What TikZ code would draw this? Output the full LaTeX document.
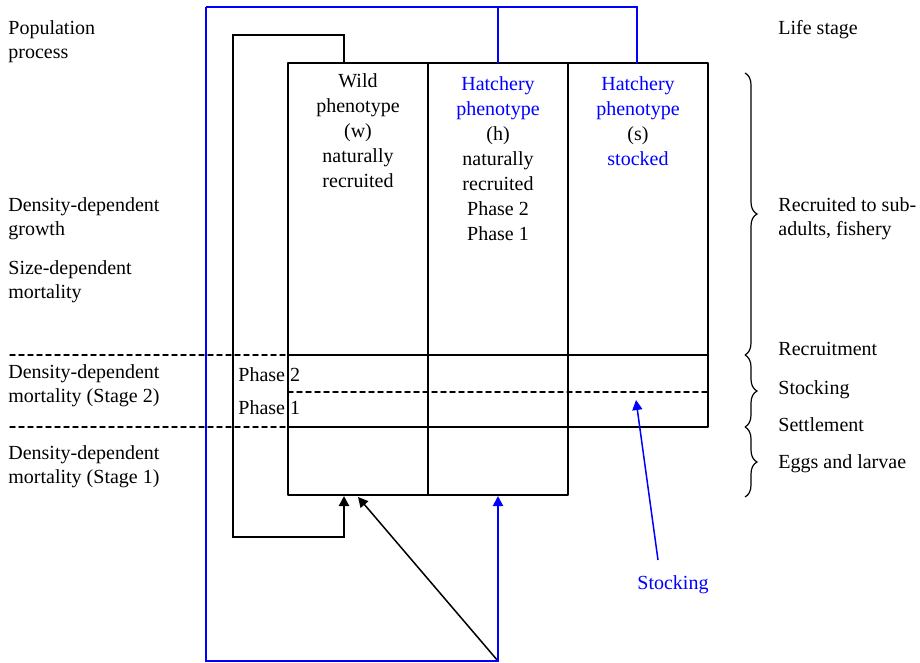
\documentclass[tikz,border=0pt]{standalone}
\usepackage{fontspec}
\setmainfont{Liberation Serif}
\usepackage{tkz-euclide}
\usetikzlibrary{arrows,arrows.meta,calc,decorations.pathreplacing}
\definecolor{HatchClr}{rgb}{0,0,1}

\tikzset{
  txt/.style={inner sep=0pt,font=\fontsize{10pt}{12pt}\selectfont},
  lbl/.style={txt,anchor=north west,align=left},
  col/.style={txt,anchor=north,align=center,font=\fontsize{10pt}{12.5pt}\selectfont},
  tip/.style={-{Triangle[length=5pt,width=5pt]}},
  brc/.style={decorate,decoration={brace,amplitude=6pt},line width=0.6pt},
  dsh/.style={line width=0.75pt,dash pattern=on 2.5pt off 2pt}
}

\begin{document}
\begin{tikzpicture}[x=0.5pt,y=-0.5pt]
\useasboundingbox (0,0) rectangle (920,663);
\tkzSetUpLine[line width=1pt,color=black]

% columns
\tkzDefPoints{288/63/T1,428/63/T2,568/63/T3,708/63/T4}
\tkzDefPoints{288/495/B1,428/495/B2,568/495/B3,568/427/S3,708/427/S4}
% stage lines
\tkzDefPoints{10/355/Rl,288/355/R1,708/355/R4,288/392/P1,708/392/P4}
\tkzDefPoints{10/427/Sl,288/427/S1}
% wild loop
\tkzDefPoints{344/63/Wa,344/35/Wb,233/35/Wc,233/537/Wd,344/537/We,344/496/Wf,358/497/Wg}
% hatchery loop
\tkzDefPoints{498/63/Ha,498/7/Hb,206/7/Hc,206/661/Hd,498/661/He,498/496/Hf,637/7/Hg,637/63/Hh}
% stocking arrow
\tkzDefPoints{658/560/Ka,636/400/Kb}
% braces
\tkzDefPoints{745/73/Ua,745/355/Ub,745/427/Uc,745/497/Ud}

\tkzDrawPolygon(T1,T2,B2,B1)
\tkzDrawPolygon(T2,T3,B3,B2)
\tkzDrawPolygon(T3,T4,S4,S3)
\tkzDrawSegments(R1,R4 S1,S3)
\tkzDrawSegments[dsh](Rl,R1 Sl,S1 P1,P4)

\draw[line width=1pt,tip] (Wa) -- (Wb) -- (Wc) -- (Wd) -- (We) -- (Wf);
\draw[line width=0.75pt,tip] (He) -- (Wg);
\draw[HatchClr,line width=1pt] (Ha) -- (Hb) (Hc) -- (Hg) -- (Hh);
\draw[HatchClr,line width=1pt,tip] (Hc) -- (Hd) -- (He) -- (Hf);
\draw[HatchClr,line width=0.75pt,tip] (Ka) -- (Kb);

\draw[brc] (Ua) -- (Ub);
\draw[brc] (Ub) -- (Uc);
\draw[brc] (Uc) -- (Ud);

% left: processes
\node[lbl] (pop) at (8,20) {Population\\process};
\node[lbl] (grow) at (8,197) {Density-dependent\\growth};
\node[lbl] (size) at (8,260) {Size-dependent\\mortality};
\node[lbl] (stg2) at (8,364) {Density-dependent\\mortality (Stage 2)};
\node[lbl] (stg1) at (8,445) {Density-dependent\\mortality (Stage 1)};
\node[lbl] (ph2) at (238,367) {Phase 2};
\node[lbl] (ph1) at (238,400) {Phase 1};

% columns
\node[col] (wild) at (358,73) {Wild\\phenotype\\(w)\\naturally\\recruited};
\node[col] (hatch) at (498,76) {\textcolor{HatchClr}{Hatchery}\\\textcolor{HatchClr}{phenotype}\\(h)\\naturally\\recruited\\Phase 2\\Phase 1};
\node[col] (stock) at (638,76) {\textcolor{HatchClr}{Hatchery}\\\textcolor{HatchClr}{phenotype}\\(s)\\\textcolor{HatchClr}{stocked}};
\node[lbl,HatchClr] (stklbl) at (637,575) {Stocking};

% right: life stages
\node[lbl] (life) at (778,20) {Life stage};
\node[lbl] (sub) at (778,197) {Recruited to sub-\\adults, fishery};
\node[lbl] (recr) at (778,342) {Recruitment};
\node[lbl] (stk) at (778,380) {Stocking};
\node[lbl] (settle) at (778,417) {Settlement};
\node[lbl] (eggs) at (778,454) {Eggs and larvae};
\end{tikzpicture}
\end{document}
